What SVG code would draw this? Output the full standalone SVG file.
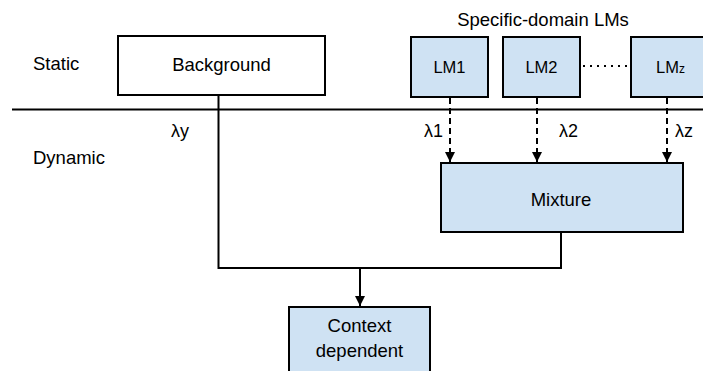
<svg xmlns="http://www.w3.org/2000/svg" width="703" height="371" viewBox="0 0 703 371">
<style>
text{font-family:"Liberation Sans",Arial,sans-serif;fill:#000}
.lbl{font-size:16.5px}
.lam{font-size:18px}
.big{font-size:18.5px}
.box{stroke:#000;stroke-width:2}
.blue{fill:#cfe2f3}
.white{fill:#fff}
.ln{stroke:#000;stroke-width:2;fill:none}
.dash{stroke:#000;stroke-width:2;fill:none;stroke-dasharray:6 4}
</style>
<defs>
<marker id="ah" viewBox="0 0 10 10" refX="10" refY="5" markerWidth="5" markerHeight="5" orient="auto" markerUnits="strokeWidth">
<path d="M0,0 L10,5 L0,10 Z" fill="#000"/>
</marker>
</defs>
<g id="labels">
<text class="big" x="33" y="70">Static</text>
<text class="big" x="33" y="164">Dynamic</text>
<text class="big" x="543" y="26" text-anchor="middle">Specific-domain LMs</text>
<text class="lam" x="171" y="137">λy</text>
<text class="lam" x="424" y="137">λ1</text>
<text class="lam" x="559" y="137">λ2</text>
<text class="lam" x="675" y="137">λz</text>
</g>
<g id="separator">
<line class="ln" x1="12" y1="109.5" x2="703" y2="109.5"/>
</g>
<g id="connectors">
<polyline class="ln" points="218.5,95 218.5,268 561,268 561,232"/>
<line class="ln" x1="360" y1="268" x2="360" y2="306" marker-end="url(#ah)"/>
<line class="dash" x1="450" y1="98" x2="450" y2="162" marker-end="url(#ah)"/>
<line class="dash" x1="537" y1="98" x2="537" y2="162" marker-end="url(#ah)"/>
<line class="dash" x1="667" y1="98" x2="667" y2="162" marker-end="url(#ah)"/>
<line x1="583" y1="66" x2="630" y2="66" stroke="#000" stroke-width="2" stroke-dasharray="2 5"/>
</g>
<g id="background">
<rect class="box white" x="118" y="36" width="207" height="59"/>
<text class="big" x="221.5" y="71" text-anchor="middle">Background</text>
</g>
<g id="lm1">
<rect class="box blue" x="411" y="37" width="77" height="60"/>
<text class="lbl" x="449.5" y="73" text-anchor="middle">LM1</text>
</g>
<g id="lm2">
<rect class="box blue" x="503" y="37" width="77" height="60"/>
<text class="lbl" x="541.5" y="73" text-anchor="middle">LM2</text>
</g>
<g id="lmz">
<rect class="box blue" x="631" y="37" width="80" height="60"/>
<text class="lbl" x="656" y="73">LM<tspan font-size="12px">z</tspan></text>
</g>
<g id="mixture">
<rect class="box blue" x="441" y="163" width="242" height="69"/>
<text class="big" x="561" y="206" text-anchor="middle">Mixture</text>
</g>
<g id="context">
<rect class="box blue" x="289" y="307" width="141" height="70"/>
<text class="big" x="359.5" y="332" text-anchor="middle">Context</text>
<text class="big" x="359.5" y="357" text-anchor="middle">dependent</text>
</g>
</svg>
